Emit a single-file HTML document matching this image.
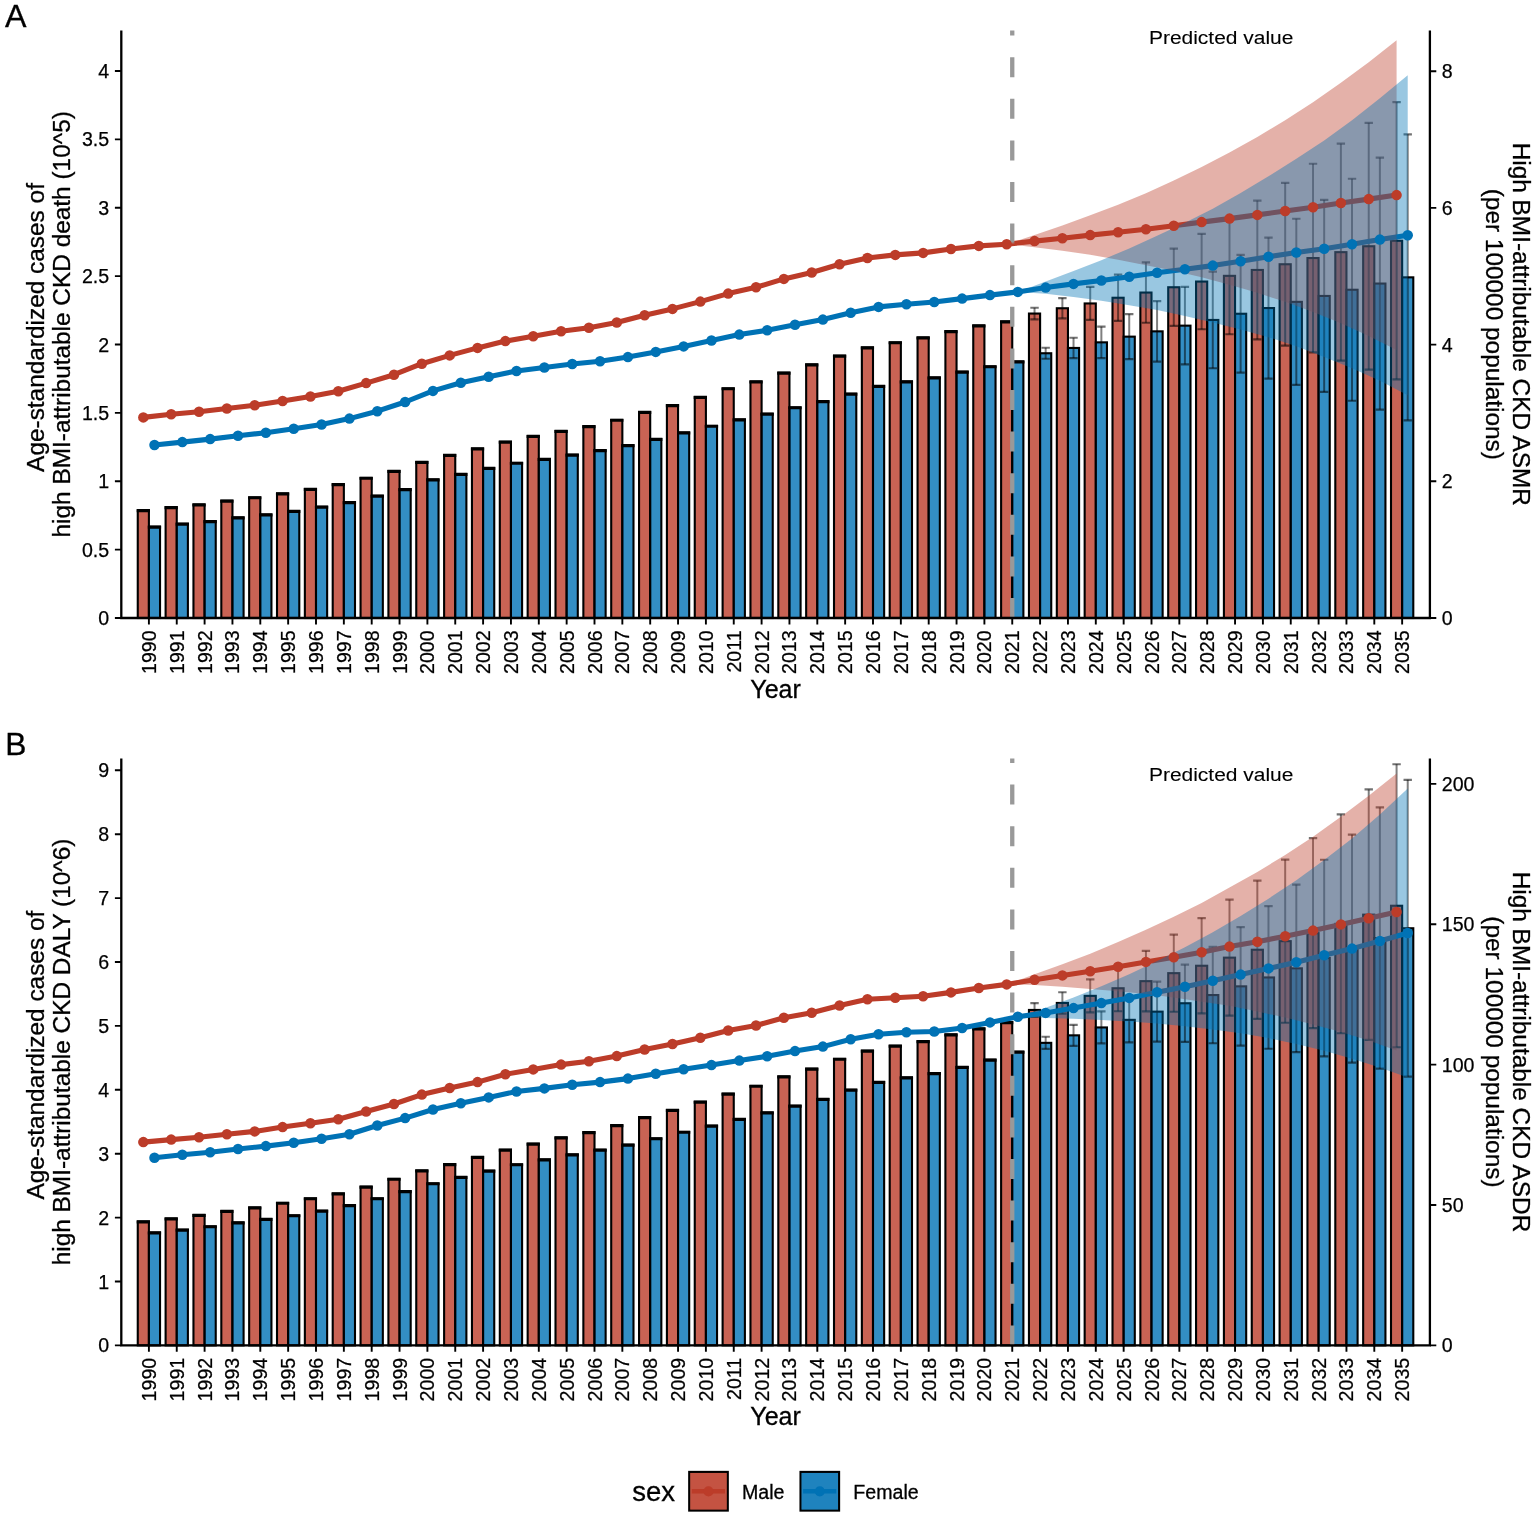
<!DOCTYPE html>
<html><head><meta charset="utf-8"><title>High BMI-attributable CKD burden</title>
<style>html,body{margin:0;padding:0;background:#fff;}svg{display:block;filter:blur(0.3px);}</style></head>
<body>
<svg width="1535" height="1517" viewBox="0 0 1535 1517"><g stroke="#000" stroke-width="2.1" stroke-linejoin="miter"><rect x="137.76" y="510.35" width="11.14" height="107.65" fill="rgba(188,60,41,0.8)"/><rect x="148.9" y="526.75" width="11.14" height="91.25" fill="rgba(0,114,181,0.8)"/><rect x="165.61" y="507.25" width="11.14" height="110.75" fill="rgba(188,60,41,0.8)"/><rect x="176.75" y="523.85" width="11.14" height="94.15" fill="rgba(0,114,181,0.8)"/><rect x="193.46" y="504.65" width="11.14" height="113.35" fill="rgba(188,60,41,0.8)"/><rect x="204.6" y="521.25" width="11.14" height="96.75" fill="rgba(0,114,181,0.8)"/><rect x="221.31" y="500.75" width="11.14" height="117.25" fill="rgba(188,60,41,0.8)"/><rect x="232.45" y="517.55" width="11.14" height="100.45" fill="rgba(0,114,181,0.8)"/><rect x="249.16" y="497.45" width="11.14" height="120.55" fill="rgba(188,60,41,0.8)"/><rect x="260.3" y="514.65" width="11.14" height="103.35" fill="rgba(0,114,181,0.8)"/><rect x="277.01" y="493.55" width="11.14" height="124.45" fill="rgba(188,60,41,0.8)"/><rect x="288.15" y="511.15" width="11.14" height="106.85" fill="rgba(0,114,181,0.8)"/><rect x="304.86" y="489.05" width="11.14" height="128.95" fill="rgba(188,60,41,0.8)"/><rect x="316" y="506.85" width="11.14" height="111.15" fill="rgba(0,114,181,0.8)"/><rect x="332.71" y="484.35" width="11.14" height="133.65" fill="rgba(188,60,41,0.8)"/><rect x="343.85" y="502.35" width="11.14" height="115.65" fill="rgba(0,114,181,0.8)"/><rect x="360.56" y="477.95" width="11.14" height="140.05" fill="rgba(188,60,41,0.8)"/><rect x="371.7" y="495.85" width="11.14" height="122.15" fill="rgba(0,114,181,0.8)"/><rect x="388.41" y="471.05" width="11.14" height="146.95" fill="rgba(188,60,41,0.8)"/><rect x="399.55" y="489.25" width="11.14" height="128.75" fill="rgba(0,114,181,0.8)"/><rect x="416.26" y="462.05" width="11.14" height="155.95" fill="rgba(188,60,41,0.8)"/><rect x="427.4" y="479.55" width="11.14" height="138.45" fill="rgba(0,114,181,0.8)"/><rect x="444.11" y="455.05" width="11.14" height="162.95" fill="rgba(188,60,41,0.8)"/><rect x="455.25" y="474.05" width="11.14" height="143.95" fill="rgba(0,114,181,0.8)"/><rect x="471.96" y="448.65" width="11.14" height="169.35" fill="rgba(188,60,41,0.8)"/><rect x="483.1" y="468.15" width="11.14" height="149.85" fill="rgba(0,114,181,0.8)"/><rect x="499.81" y="441.85" width="11.14" height="176.15" fill="rgba(188,60,41,0.8)"/><rect x="510.95" y="462.95" width="11.14" height="155.05" fill="rgba(0,114,181,0.8)"/><rect x="527.66" y="436.15" width="11.14" height="181.85" fill="rgba(188,60,41,0.8)"/><rect x="538.8" y="459.05" width="11.14" height="158.95" fill="rgba(0,114,181,0.8)"/><rect x="555.51" y="431.05" width="11.14" height="186.95" fill="rgba(188,60,41,0.8)"/><rect x="566.65" y="454.75" width="11.14" height="163.25" fill="rgba(0,114,181,0.8)"/><rect x="583.36" y="426.35" width="11.14" height="191.65" fill="rgba(188,60,41,0.8)"/><rect x="594.5" y="450.25" width="11.14" height="167.75" fill="rgba(0,114,181,0.8)"/><rect x="611.21" y="419.95" width="11.14" height="198.05" fill="rgba(188,60,41,0.8)"/><rect x="622.35" y="445.35" width="11.14" height="172.65" fill="rgba(0,114,181,0.8)"/><rect x="639.06" y="412.15" width="11.14" height="205.85" fill="rgba(188,60,41,0.8)"/><rect x="650.2" y="439.05" width="11.14" height="178.95" fill="rgba(0,114,181,0.8)"/><rect x="666.91" y="405.25" width="11.14" height="212.75" fill="rgba(188,60,41,0.8)"/><rect x="678.05" y="432.65" width="11.14" height="185.35" fill="rgba(0,114,181,0.8)"/><rect x="694.76" y="397.15" width="11.14" height="220.85" fill="rgba(188,60,41,0.8)"/><rect x="705.9" y="425.95" width="11.14" height="192.05" fill="rgba(0,114,181,0.8)"/><rect x="722.61" y="388.45" width="11.14" height="229.55" fill="rgba(188,60,41,0.8)"/><rect x="733.75" y="419.55" width="11.14" height="198.45" fill="rgba(0,114,181,0.8)"/><rect x="750.46" y="381.65" width="11.14" height="236.35" fill="rgba(188,60,41,0.8)"/><rect x="761.6" y="413.85" width="11.14" height="204.15" fill="rgba(0,114,181,0.8)"/><rect x="778.31" y="372.75" width="11.14" height="245.25" fill="rgba(188,60,41,0.8)"/><rect x="789.45" y="407.45" width="11.14" height="210.55" fill="rgba(0,114,181,0.8)"/><rect x="806.16" y="364.55" width="11.14" height="253.45" fill="rgba(188,60,41,0.8)"/><rect x="817.3" y="401.35" width="11.14" height="216.65" fill="rgba(0,114,181,0.8)"/><rect x="834.01" y="355.75" width="11.14" height="262.25" fill="rgba(188,60,41,0.8)"/><rect x="845.15" y="393.85" width="11.14" height="224.15" fill="rgba(0,114,181,0.8)"/><rect x="861.86" y="347.55" width="11.14" height="270.45" fill="rgba(188,60,41,0.8)"/><rect x="873" y="386.05" width="11.14" height="231.95" fill="rgba(0,114,181,0.8)"/><rect x="889.71" y="342.45" width="11.14" height="275.55" fill="rgba(188,60,41,0.8)"/><rect x="900.85" y="381.55" width="11.14" height="236.45" fill="rgba(0,114,181,0.8)"/><rect x="917.56" y="337.65" width="11.14" height="280.35" fill="rgba(188,60,41,0.8)"/><rect x="928.7" y="377.65" width="11.14" height="240.35" fill="rgba(0,114,181,0.8)"/><rect x="945.41" y="331.35" width="11.14" height="286.65" fill="rgba(188,60,41,0.8)"/><rect x="956.55" y="371.75" width="11.14" height="246.25" fill="rgba(0,114,181,0.8)"/><rect x="973.26" y="325.65" width="11.14" height="292.35" fill="rgba(188,60,41,0.8)"/><rect x="984.4" y="366.45" width="11.14" height="251.55" fill="rgba(0,114,181,0.8)"/><rect x="1001.11" y="321.55" width="11.14" height="296.45" fill="rgba(188,60,41,0.8)"/><rect x="1012.25" y="361.65" width="11.14" height="256.35" fill="rgba(0,114,181,0.8)"/><rect x="1028.96" y="313.55" width="11.14" height="304.45" fill="rgba(188,60,41,0.8)"/><rect x="1040.1" y="353.25" width="11.14" height="264.75" fill="rgba(0,114,181,0.8)"/><rect x="1056.81" y="308.25" width="11.14" height="309.75" fill="rgba(188,60,41,0.8)"/><rect x="1067.95" y="347.95" width="11.14" height="270.05" fill="rgba(0,114,181,0.8)"/><rect x="1084.66" y="303.45" width="11.14" height="314.55" fill="rgba(188,60,41,0.8)"/><rect x="1095.8" y="342.35" width="11.14" height="275.65" fill="rgba(0,114,181,0.8)"/><rect x="1112.51" y="297.75" width="11.14" height="320.25" fill="rgba(188,60,41,0.8)"/><rect x="1123.65" y="336.65" width="11.14" height="281.35" fill="rgba(0,114,181,0.8)"/><rect x="1140.36" y="292.55" width="11.14" height="325.45" fill="rgba(188,60,41,0.8)"/><rect x="1151.5" y="331.35" width="11.14" height="286.65" fill="rgba(0,114,181,0.8)"/><rect x="1168.21" y="287.25" width="11.14" height="330.75" fill="rgba(188,60,41,0.8)"/><rect x="1179.35" y="325.65" width="11.14" height="292.35" fill="rgba(0,114,181,0.8)"/><rect x="1196.06" y="281.55" width="11.14" height="336.45" fill="rgba(188,60,41,0.8)"/><rect x="1207.2" y="319.95" width="11.14" height="298.05" fill="rgba(0,114,181,0.8)"/><rect x="1223.91" y="275.85" width="11.14" height="342.15" fill="rgba(188,60,41,0.8)"/><rect x="1235.05" y="313.75" width="11.14" height="304.25" fill="rgba(0,114,181,0.8)"/><rect x="1251.76" y="269.95" width="11.14" height="348.05" fill="rgba(188,60,41,0.8)"/><rect x="1262.9" y="308.05" width="11.14" height="309.95" fill="rgba(0,114,181,0.8)"/><rect x="1279.61" y="264.25" width="11.14" height="353.75" fill="rgba(188,60,41,0.8)"/><rect x="1290.75" y="301.85" width="11.14" height="316.15" fill="rgba(0,114,181,0.8)"/><rect x="1307.46" y="258.05" width="11.14" height="359.95" fill="rgba(188,60,41,0.8)"/><rect x="1318.6" y="295.95" width="11.14" height="322.05" fill="rgba(0,114,181,0.8)"/><rect x="1335.31" y="252.15" width="11.14" height="365.85" fill="rgba(188,60,41,0.8)"/><rect x="1346.45" y="289.75" width="11.14" height="328.25" fill="rgba(0,114,181,0.8)"/><rect x="1363.16" y="246.25" width="11.14" height="371.75" fill="rgba(188,60,41,0.8)"/><rect x="1374.3" y="283.55" width="11.14" height="334.45" fill="rgba(0,114,181,0.8)"/><rect x="1391.01" y="240.75" width="11.14" height="377.25" fill="rgba(188,60,41,0.8)"/><rect x="1402.15" y="277.35" width="11.14" height="340.65" fill="rgba(0,114,181,0.8)"/></g>
<g stroke="#000" stroke-opacity="0.5" stroke-width="2.0" fill="none"><path d="M1034.53 307.75V319.35"/><path d="M1045.67 347.75V358.75"/><path d="M1062.38 298.05V318.45"/><path d="M1073.52 337.75V358.15"/><path d="M1090.23 286.95V319.95"/><path d="M1101.37 326.65V358.05"/><path d="M1118.08 274.65V320.85"/><path d="M1129.22 314.15V359.15"/><path d="M1145.93 262.35V322.75"/><path d="M1157.07 301.15V361.55"/><path d="M1173.78 248.55V325.95"/><path d="M1184.92 286.85V364.45"/><path d="M1201.63 233.85V329.25"/><path d="M1212.77 271.65V368.25"/><path d="M1229.48 217.45V334.25"/><path d="M1240.62 254.95V372.55"/><path d="M1257.33 200.55V339.35"/><path d="M1268.47 237.55V378.55"/><path d="M1285.18 182.95V345.55"/><path d="M1296.32 218.75V384.95"/><path d="M1313.03 163.75V352.35"/><path d="M1324.17 199.95V391.95"/><path d="M1340.88 143.65V360.65"/><path d="M1352.02 178.75V400.75"/><path d="M1368.73 122.85V369.65"/><path d="M1379.87 157.55V409.55"/><path d="M1396.58 102.15V379.35"/><path d="M1407.72 134.35V420.35"/></g>
<g stroke="#000" stroke-opacity="0.55" stroke-width="2.2" fill="none"><path d="M1030.33 307.75H1038.73M1030.33 319.35H1038.73"/><path d="M1041.47 347.75H1049.87M1041.47 358.75H1049.87"/><path d="M1058.18 298.05H1066.58M1058.18 318.45H1066.58"/><path d="M1069.32 337.75H1077.72M1069.32 358.15H1077.72"/><path d="M1086.03 286.95H1094.43M1086.03 319.95H1094.43"/><path d="M1097.17 326.65H1105.57M1097.17 358.05H1105.57"/><path d="M1113.88 274.65H1122.28M1113.88 320.85H1122.28"/><path d="M1125.02 314.15H1133.42M1125.02 359.15H1133.42"/><path d="M1141.73 262.35H1150.13M1141.73 322.75H1150.13"/><path d="M1152.87 301.15H1161.27M1152.87 361.55H1161.27"/><path d="M1169.58 248.55H1177.98M1169.58 325.95H1177.98"/><path d="M1180.72 286.85H1189.12M1180.72 364.45H1189.12"/><path d="M1197.43 233.85H1205.83M1197.43 329.25H1205.83"/><path d="M1208.57 271.65H1216.97M1208.57 368.25H1216.97"/><path d="M1225.28 217.45H1233.68M1225.28 334.25H1233.68"/><path d="M1236.42 254.95H1244.82M1236.42 372.55H1244.82"/><path d="M1253.13 200.55H1261.53M1253.13 339.35H1261.53"/><path d="M1264.27 237.55H1272.67M1264.27 378.55H1272.67"/><path d="M1280.98 182.95H1289.38M1280.98 345.55H1289.38"/><path d="M1292.12 218.75H1300.52M1292.12 384.95H1300.52"/><path d="M1308.83 163.75H1317.23M1308.83 352.35H1317.23"/><path d="M1319.97 199.95H1328.37M1319.97 391.95H1328.37"/><path d="M1336.68 143.65H1345.08M1336.68 360.65H1345.08"/><path d="M1347.82 178.75H1356.22M1347.82 400.75H1356.22"/><path d="M1364.53 122.85H1372.93M1364.53 369.65H1372.93"/><path d="M1375.67 157.55H1384.07M1375.67 409.55H1384.07"/><path d="M1392.38 102.15H1400.78M1392.38 379.35H1400.78"/><path d="M1403.52 134.35H1411.92M1403.52 420.35H1411.92"/></g>
<path d="M136.71 510.65H149.95M147.85 527.05H161.09M164.56 507.55H177.8M175.7 524.15H188.94M192.41 504.95H205.65M203.55 521.55H216.79M220.26 501.05H233.5M231.4 517.85H244.64M248.11 497.75H261.35M259.25 514.95H272.49M275.96 493.85H289.2M287.1 511.45H300.34M303.81 489.35H317.05M314.95 507.15H328.19M331.66 484.65H344.9M342.8 502.65H356.04M359.51 478.25H372.75M370.65 496.15H383.89M387.36 471.35H400.6M398.5 489.55H411.74M415.21 462.35H428.45M426.35 479.85H439.59M443.06 455.35H456.3M454.2 474.35H467.44M470.91 448.95H484.15M482.05 468.45H495.29M498.76 442.15H512M509.9 463.25H523.14M526.61 436.45H539.85M537.75 459.35H550.99M554.46 431.35H567.7M565.6 455.05H578.84M582.31 426.65H595.55M593.45 450.55H606.69M610.16 420.25H623.4M621.3 445.65H634.54M638.01 412.45H651.25M649.15 439.35H662.39M665.86 405.55H679.1M677 432.95H690.24M693.71 397.45H706.95M704.85 426.25H718.09M721.56 388.75H734.8M732.7 419.85H745.94M749.41 381.95H762.65M760.55 414.15H773.79M777.26 373.05H790.5M788.4 407.75H801.64M805.11 364.85H818.35M816.25 401.65H829.49M832.96 356.05H846.2M844.1 394.15H857.34M860.81 347.85H874.05M871.95 386.35H885.19M888.66 342.75H901.9M899.8 381.85H913.04M916.51 337.95H929.75M927.65 377.95H940.89M944.36 331.65H957.6M955.5 372.05H968.74M972.21 325.95H985.45M983.35 366.75H996.59M1000.06 321.85H1013.3M1011.2 361.95H1024.44" stroke="#000" stroke-width="3.2" fill="none"/>
<path d="M143.33 417.4 L171.18 414.3 L199.03 411.8 L226.88 408.5 L254.73 405.3 L282.58 401 L310.43 396.5 L338.28 391.3 L366.13 383.1 L393.98 374.7 L421.83 363.7 L449.68 355.4 L477.53 347.9 L505.38 341.1 L533.23 336.2 L561.08 331.3 L588.93 327.8 L616.78 322.5 L644.63 315.3 L672.48 308.9 L700.33 301.6 L728.18 293.6 L756.03 287.3 L783.88 278.9 L811.73 272.5 L839.58 264.3 L867.43 258 L895.28 254.9 L923.13 252.9 L950.98 249 L978.83 245.9 L1006.68 244.2 L1034.53 241.1 L1062.38 238.2 L1090.23 235.1 L1118.08 232.3 L1145.93 229.2 L1173.78 225.7 L1201.63 222.1 L1229.48 218.6 L1257.33 214.9 L1285.18 211 L1313.03 207.2 L1340.88 203 L1368.73 199.1 L1396.58 195.1" fill="none" stroke="#BC3C29" stroke-width="5.1" stroke-linejoin="round"/>
<path d="M154.47 445 L182.32 442.1 L210.17 439.1 L238.02 435.8 L265.87 432.7 L293.72 428.8 L321.57 424.5 L349.42 418.6 L377.27 411.2 L405.12 402 L432.97 390.9 L460.82 382.7 L488.67 376.7 L516.52 371 L544.37 367.5 L572.22 364 L600.07 361.2 L627.92 357.1 L655.77 351.9 L683.62 346.4 L711.47 340.5 L739.32 334.6 L767.17 330.3 L795.02 324.8 L822.87 319.6 L850.72 312.7 L878.57 306.9 L906.42 304.3 L934.27 302 L962.12 298.6 L989.97 295.1 L1017.82 291.9 L1045.67 287.6 L1073.52 283.9 L1101.37 280.5 L1129.22 276.8 L1157.07 272.8 L1184.92 269.3 L1212.77 265.6 L1240.62 261.2 L1268.47 256.7 L1296.32 252.5 L1324.17 248.8 L1352.02 244.3 L1379.87 239.6 L1407.72 235.2" fill="none" stroke="#0072B5" stroke-width="5.1" stroke-linejoin="round"/>
<line x1="1012.25" y1="618" x2="1012.25" y2="30.6" stroke="#999999" stroke-width="4.3" stroke-dasharray="20 21.6"/>
<path d="M1006.68 244.2 L1034.53 235.07 L1062.38 225.61 L1090.23 215.37 L1118.08 204.8 L1145.93 193.24 L1173.78 180.53 L1201.63 166.92 L1229.48 152.51 L1257.33 136.95 L1285.18 120.14 L1313.03 102.29 L1340.88 82.8 L1368.73 62.26 L1396.58 40.15 L1396.58 350.05 L1368.73 335.94 L1340.88 323.2 L1313.03 312.11 L1285.18 301.86 L1257.33 292.85 L1229.48 284.69 L1201.63 277.28 L1173.78 270.87 L1145.93 265.16 L1118.08 259.8 L1090.23 254.83 L1062.38 250.79 L1034.53 247.13 L1006.68 244.2Z" fill="rgba(188,60,41,0.4)"/>
<path d="M1017.82 291.9 L1045.67 281.38 L1073.52 270.9 L1101.37 260.13 L1129.22 248.41 L1157.07 235.68 L1184.92 222.68 L1212.77 208.64 L1240.62 192.99 L1268.47 176.24 L1296.32 158.71 L1324.17 140.51 L1352.02 120.23 L1379.87 98.35 L1407.72 75.25 L1407.72 395.15 L1379.87 380.85 L1352.02 368.37 L1324.17 357.09 L1296.32 346.29 L1268.47 337.16 L1240.62 329.41 L1212.77 322.56 L1184.92 315.92 L1157.07 309.92 L1129.22 305.19 L1101.37 300.87 L1073.52 296.9 L1045.67 293.82 L1017.82 291.9Z" fill="rgba(0,114,181,0.4)"/>
<g fill="#BC3C29"><circle cx="143.33" cy="417.4" r="5.25"/><circle cx="171.18" cy="414.3" r="5.25"/><circle cx="199.03" cy="411.8" r="5.25"/><circle cx="226.88" cy="408.5" r="5.25"/><circle cx="254.73" cy="405.3" r="5.25"/><circle cx="282.58" cy="401" r="5.25"/><circle cx="310.43" cy="396.5" r="5.25"/><circle cx="338.28" cy="391.3" r="5.25"/><circle cx="366.13" cy="383.1" r="5.25"/><circle cx="393.98" cy="374.7" r="5.25"/><circle cx="421.83" cy="363.7" r="5.25"/><circle cx="449.68" cy="355.4" r="5.25"/><circle cx="477.53" cy="347.9" r="5.25"/><circle cx="505.38" cy="341.1" r="5.25"/><circle cx="533.23" cy="336.2" r="5.25"/><circle cx="561.08" cy="331.3" r="5.25"/><circle cx="588.93" cy="327.8" r="5.25"/><circle cx="616.78" cy="322.5" r="5.25"/><circle cx="644.63" cy="315.3" r="5.25"/><circle cx="672.48" cy="308.9" r="5.25"/><circle cx="700.33" cy="301.6" r="5.25"/><circle cx="728.18" cy="293.6" r="5.25"/><circle cx="756.03" cy="287.3" r="5.25"/><circle cx="783.88" cy="278.9" r="5.25"/><circle cx="811.73" cy="272.5" r="5.25"/><circle cx="839.58" cy="264.3" r="5.25"/><circle cx="867.43" cy="258" r="5.25"/><circle cx="895.28" cy="254.9" r="5.25"/><circle cx="923.13" cy="252.9" r="5.25"/><circle cx="950.98" cy="249" r="5.25"/><circle cx="978.83" cy="245.9" r="5.25"/><circle cx="1006.68" cy="244.2" r="5.25"/><circle cx="1034.53" cy="241.1" r="5.25"/><circle cx="1062.38" cy="238.2" r="5.25"/><circle cx="1090.23" cy="235.1" r="5.25"/><circle cx="1118.08" cy="232.3" r="5.25"/><circle cx="1145.93" cy="229.2" r="5.25"/><circle cx="1173.78" cy="225.7" r="5.25"/><circle cx="1201.63" cy="222.1" r="5.25"/><circle cx="1229.48" cy="218.6" r="5.25"/><circle cx="1257.33" cy="214.9" r="5.25"/><circle cx="1285.18" cy="211" r="5.25"/><circle cx="1313.03" cy="207.2" r="5.25"/><circle cx="1340.88" cy="203" r="5.25"/><circle cx="1368.73" cy="199.1" r="5.25"/><circle cx="1396.58" cy="195.1" r="5.25"/></g>
<g fill="#0072B5"><circle cx="154.47" cy="445" r="5.25"/><circle cx="182.32" cy="442.1" r="5.25"/><circle cx="210.17" cy="439.1" r="5.25"/><circle cx="238.02" cy="435.8" r="5.25"/><circle cx="265.87" cy="432.7" r="5.25"/><circle cx="293.72" cy="428.8" r="5.25"/><circle cx="321.57" cy="424.5" r="5.25"/><circle cx="349.42" cy="418.6" r="5.25"/><circle cx="377.27" cy="411.2" r="5.25"/><circle cx="405.12" cy="402" r="5.25"/><circle cx="432.97" cy="390.9" r="5.25"/><circle cx="460.82" cy="382.7" r="5.25"/><circle cx="488.67" cy="376.7" r="5.25"/><circle cx="516.52" cy="371" r="5.25"/><circle cx="544.37" cy="367.5" r="5.25"/><circle cx="572.22" cy="364" r="5.25"/><circle cx="600.07" cy="361.2" r="5.25"/><circle cx="627.92" cy="357.1" r="5.25"/><circle cx="655.77" cy="351.9" r="5.25"/><circle cx="683.62" cy="346.4" r="5.25"/><circle cx="711.47" cy="340.5" r="5.25"/><circle cx="739.32" cy="334.6" r="5.25"/><circle cx="767.17" cy="330.3" r="5.25"/><circle cx="795.02" cy="324.8" r="5.25"/><circle cx="822.87" cy="319.6" r="5.25"/><circle cx="850.72" cy="312.7" r="5.25"/><circle cx="878.57" cy="306.9" r="5.25"/><circle cx="906.42" cy="304.3" r="5.25"/><circle cx="934.27" cy="302" r="5.25"/><circle cx="962.12" cy="298.6" r="5.25"/><circle cx="989.97" cy="295.1" r="5.25"/><circle cx="1017.82" cy="291.9" r="5.25"/><circle cx="1045.67" cy="287.6" r="5.25"/><circle cx="1073.52" cy="283.9" r="5.25"/><circle cx="1101.37" cy="280.5" r="5.25"/><circle cx="1129.22" cy="276.8" r="5.25"/><circle cx="1157.07" cy="272.8" r="5.25"/><circle cx="1184.92" cy="269.3" r="5.25"/><circle cx="1212.77" cy="265.6" r="5.25"/><circle cx="1240.62" cy="261.2" r="5.25"/><circle cx="1268.47" cy="256.7" r="5.25"/><circle cx="1296.32" cy="252.5" r="5.25"/><circle cx="1324.17" cy="248.8" r="5.25"/><circle cx="1352.02" cy="244.3" r="5.25"/><circle cx="1379.87" cy="239.6" r="5.25"/><circle cx="1407.72" cy="235.2" r="5.25"/></g>
<g stroke="#000" stroke-width="2.3" fill="none" stroke-linecap="butt"><path d="M121.3 30.6V619.15M1429.9 30.6V619.15M120.15 618H1431.05"/>
<path d="M114.9 618H121.3M114.9 549.62H121.3M114.9 481.25H121.3M114.9 412.88H121.3M114.9 344.5H121.3M114.9 276.12H121.3M114.9 207.75H121.3M114.9 139.38H121.3M114.9 71H121.3M1429.9 618H1436.3M1429.9 481.3H1436.3M1429.9 344.6H1436.3M1429.9 207.9H1436.3M1429.9 71.2H1436.3M148.9 618V624.4M176.75 618V624.4M204.6 618V624.4M232.45 618V624.4M260.3 618V624.4M288.15 618V624.4M316 618V624.4M343.85 618V624.4M371.7 618V624.4M399.55 618V624.4M427.4 618V624.4M455.25 618V624.4M483.1 618V624.4M510.95 618V624.4M538.8 618V624.4M566.65 618V624.4M594.5 618V624.4M622.35 618V624.4M650.2 618V624.4M678.05 618V624.4M705.9 618V624.4M733.75 618V624.4M761.6 618V624.4M789.45 618V624.4M817.3 618V624.4M845.15 618V624.4M873 618V624.4M900.85 618V624.4M928.7 618V624.4M956.55 618V624.4M984.4 618V624.4M1012.25 618V624.4M1040.1 618V624.4M1067.95 618V624.4M1095.8 618V624.4M1123.65 618V624.4M1151.5 618V624.4M1179.35 618V624.4M1207.2 618V624.4M1235.05 618V624.4M1262.9 618V624.4M1290.75 618V624.4M1318.6 618V624.4M1346.45 618V624.4M1374.3 618V624.4M1402.15 618V624.4" stroke-width="1.9"/></g>
<g font-family="'Liberation Sans', Arial, Helvetica, sans-serif" font-size="19.6" fill="#000" stroke="#000" stroke-width="0.25"><text x="109.2" y="625" text-anchor="end">0</text><text x="109.2" y="556.62" text-anchor="end">0.5</text><text x="109.2" y="488.25" text-anchor="end">1</text><text x="109.2" y="419.88" text-anchor="end">1.5</text><text x="109.2" y="351.5" text-anchor="end">2</text><text x="109.2" y="283.12" text-anchor="end">2.5</text><text x="109.2" y="214.75" text-anchor="end">3</text><text x="109.2" y="146.38" text-anchor="end">3.5</text><text x="109.2" y="78" text-anchor="end">4</text><text x="1441.8" y="625">0</text><text x="1441.8" y="488.3">2</text><text x="1441.8" y="351.6">4</text><text x="1441.8" y="214.9">6</text><text x="1441.8" y="78.2">8</text><text transform="translate(155.9 630.4) rotate(-90)" text-anchor="end">1990</text><text transform="translate(183.75 630.4) rotate(-90)" text-anchor="end">1991</text><text transform="translate(211.6 630.4) rotate(-90)" text-anchor="end">1992</text><text transform="translate(239.45 630.4) rotate(-90)" text-anchor="end">1993</text><text transform="translate(267.3 630.4) rotate(-90)" text-anchor="end">1994</text><text transform="translate(295.15 630.4) rotate(-90)" text-anchor="end">1995</text><text transform="translate(323 630.4) rotate(-90)" text-anchor="end">1996</text><text transform="translate(350.85 630.4) rotate(-90)" text-anchor="end">1997</text><text transform="translate(378.7 630.4) rotate(-90)" text-anchor="end">1998</text><text transform="translate(406.55 630.4) rotate(-90)" text-anchor="end">1999</text><text transform="translate(434.4 630.4) rotate(-90)" text-anchor="end">2000</text><text transform="translate(462.25 630.4) rotate(-90)" text-anchor="end">2001</text><text transform="translate(490.1 630.4) rotate(-90)" text-anchor="end">2002</text><text transform="translate(517.95 630.4) rotate(-90)" text-anchor="end">2003</text><text transform="translate(545.8 630.4) rotate(-90)" text-anchor="end">2004</text><text transform="translate(573.65 630.4) rotate(-90)" text-anchor="end">2005</text><text transform="translate(601.5 630.4) rotate(-90)" text-anchor="end">2006</text><text transform="translate(629.35 630.4) rotate(-90)" text-anchor="end">2007</text><text transform="translate(657.2 630.4) rotate(-90)" text-anchor="end">2008</text><text transform="translate(685.05 630.4) rotate(-90)" text-anchor="end">2009</text><text transform="translate(712.9 630.4) rotate(-90)" text-anchor="end">2010</text><text transform="translate(740.75 630.4) rotate(-90)" text-anchor="end">2011</text><text transform="translate(768.6 630.4) rotate(-90)" text-anchor="end">2012</text><text transform="translate(796.45 630.4) rotate(-90)" text-anchor="end">2013</text><text transform="translate(824.3 630.4) rotate(-90)" text-anchor="end">2014</text><text transform="translate(852.15 630.4) rotate(-90)" text-anchor="end">2015</text><text transform="translate(880 630.4) rotate(-90)" text-anchor="end">2016</text><text transform="translate(907.85 630.4) rotate(-90)" text-anchor="end">2017</text><text transform="translate(935.7 630.4) rotate(-90)" text-anchor="end">2018</text><text transform="translate(963.55 630.4) rotate(-90)" text-anchor="end">2019</text><text transform="translate(991.4 630.4) rotate(-90)" text-anchor="end">2020</text><text transform="translate(1019.25 630.4) rotate(-90)" text-anchor="end">2021</text><text transform="translate(1047.1 630.4) rotate(-90)" text-anchor="end">2022</text><text transform="translate(1074.95 630.4) rotate(-90)" text-anchor="end">2023</text><text transform="translate(1102.8 630.4) rotate(-90)" text-anchor="end">2024</text><text transform="translate(1130.65 630.4) rotate(-90)" text-anchor="end">2025</text><text transform="translate(1158.5 630.4) rotate(-90)" text-anchor="end">2026</text><text transform="translate(1186.35 630.4) rotate(-90)" text-anchor="end">2027</text><text transform="translate(1214.2 630.4) rotate(-90)" text-anchor="end">2028</text><text transform="translate(1242.05 630.4) rotate(-90)" text-anchor="end">2029</text><text transform="translate(1269.9 630.4) rotate(-90)" text-anchor="end">2030</text><text transform="translate(1297.75 630.4) rotate(-90)" text-anchor="end">2031</text><text transform="translate(1325.6 630.4) rotate(-90)" text-anchor="end">2032</text><text transform="translate(1353.45 630.4) rotate(-90)" text-anchor="end">2033</text><text transform="translate(1381.3 630.4) rotate(-90)" text-anchor="end">2034</text><text transform="translate(1409.15 630.4) rotate(-90)" text-anchor="end">2035</text></g>
<g font-family="'Liberation Sans', Arial, Helvetica, sans-serif" font-size="24.4" fill="#000" stroke="#000" stroke-width="0.3"><text transform="translate(43.7 327.5) rotate(-90)" text-anchor="middle">Age-standardized cases of</text><text transform="translate(70.4 324.3) rotate(-90)" text-anchor="middle">high BMI-attributable CKD death (10^5)</text><text transform="translate(1512.5 324.3) rotate(90)" text-anchor="middle">High BMI-attributable CKD ASMR</text><text transform="translate(1486.2 324.3) rotate(90)" text-anchor="middle">(per 100000 populations)</text><text x="775.6" y="697.7" text-anchor="middle" font-size="25">Year</text></g>
<text x="1221.2" y="44" text-anchor="middle" font-family="'Liberation Sans', Arial, Helvetica, sans-serif" font-size="18.9" stroke="#000" stroke-width="0.1" textLength="144.5" lengthAdjust="spacingAndGlyphs">Predicted value</text>
<text x="5.1" y="27.0" font-family="'Liberation Sans', Arial, Helvetica, sans-serif" font-size="31" stroke="#000" stroke-width="0.3" textLength="21.5" lengthAdjust="spacingAndGlyphs">A</text>
<g stroke="#000" stroke-width="2.1" stroke-linejoin="miter"><rect x="137.76" y="1221.55" width="11.14" height="123.85" fill="rgba(188,60,41,0.8)"/><rect x="148.9" y="1232.65" width="11.14" height="112.75" fill="rgba(0,114,181,0.8)"/><rect x="165.61" y="1218.65" width="11.14" height="126.75" fill="rgba(188,60,41,0.8)"/><rect x="176.75" y="1229.75" width="11.14" height="115.65" fill="rgba(0,114,181,0.8)"/><rect x="193.46" y="1215.05" width="11.14" height="130.35" fill="rgba(188,60,41,0.8)"/><rect x="204.6" y="1226.45" width="11.14" height="118.95" fill="rgba(0,114,181,0.8)"/><rect x="221.31" y="1211.15" width="11.14" height="134.25" fill="rgba(188,60,41,0.8)"/><rect x="232.45" y="1222.55" width="11.14" height="122.85" fill="rgba(0,114,181,0.8)"/><rect x="249.16" y="1207.65" width="11.14" height="137.75" fill="rgba(188,60,41,0.8)"/><rect x="260.3" y="1219.05" width="11.14" height="126.35" fill="rgba(0,114,181,0.8)"/><rect x="277.01" y="1202.95" width="11.14" height="142.45" fill="rgba(188,60,41,0.8)"/><rect x="288.15" y="1215.45" width="11.14" height="129.95" fill="rgba(0,114,181,0.8)"/><rect x="304.86" y="1198.45" width="11.14" height="146.95" fill="rgba(188,60,41,0.8)"/><rect x="316" y="1210.85" width="11.14" height="134.55" fill="rgba(0,114,181,0.8)"/><rect x="332.71" y="1193.65" width="11.14" height="151.75" fill="rgba(188,60,41,0.8)"/><rect x="343.85" y="1205.35" width="11.14" height="140.05" fill="rgba(0,114,181,0.8)"/><rect x="360.56" y="1186.75" width="11.14" height="158.65" fill="rgba(188,60,41,0.8)"/><rect x="371.7" y="1198.45" width="11.14" height="146.95" fill="rgba(0,114,181,0.8)"/><rect x="388.41" y="1178.95" width="11.14" height="166.45" fill="rgba(188,60,41,0.8)"/><rect x="399.55" y="1191.25" width="11.14" height="154.15" fill="rgba(0,114,181,0.8)"/><rect x="416.26" y="1170.65" width="11.14" height="174.75" fill="rgba(188,60,41,0.8)"/><rect x="427.4" y="1183.45" width="11.14" height="161.95" fill="rgba(0,114,181,0.8)"/><rect x="444.11" y="1164.25" width="11.14" height="181.15" fill="rgba(188,60,41,0.8)"/><rect x="455.25" y="1177.15" width="11.14" height="168.25" fill="rgba(0,114,181,0.8)"/><rect x="471.96" y="1157.05" width="11.14" height="188.35" fill="rgba(188,60,41,0.8)"/><rect x="483.1" y="1170.75" width="11.14" height="174.65" fill="rgba(0,114,181,0.8)"/><rect x="499.81" y="1149.85" width="11.14" height="195.55" fill="rgba(188,60,41,0.8)"/><rect x="510.95" y="1164.45" width="11.14" height="180.95" fill="rgba(0,114,181,0.8)"/><rect x="527.66" y="1143.75" width="11.14" height="201.65" fill="rgba(188,60,41,0.8)"/><rect x="538.8" y="1159.55" width="11.14" height="185.85" fill="rgba(0,114,181,0.8)"/><rect x="555.51" y="1137.55" width="11.14" height="207.85" fill="rgba(188,60,41,0.8)"/><rect x="566.65" y="1154.55" width="11.14" height="190.85" fill="rgba(0,114,181,0.8)"/><rect x="583.36" y="1132.25" width="11.14" height="213.15" fill="rgba(188,60,41,0.8)"/><rect x="594.5" y="1149.85" width="11.14" height="195.55" fill="rgba(0,114,181,0.8)"/><rect x="611.21" y="1125.35" width="11.14" height="220.05" fill="rgba(188,60,41,0.8)"/><rect x="622.35" y="1144.75" width="11.14" height="200.65" fill="rgba(0,114,181,0.8)"/><rect x="639.06" y="1117.35" width="11.14" height="228.05" fill="rgba(188,60,41,0.8)"/><rect x="650.2" y="1138.45" width="11.14" height="206.95" fill="rgba(0,114,181,0.8)"/><rect x="666.91" y="1110.15" width="11.14" height="235.25" fill="rgba(188,60,41,0.8)"/><rect x="678.05" y="1131.95" width="11.14" height="213.45" fill="rgba(0,114,181,0.8)"/><rect x="694.76" y="1101.85" width="11.14" height="243.55" fill="rgba(188,60,41,0.8)"/><rect x="705.9" y="1125.75" width="11.14" height="219.65" fill="rgba(0,114,181,0.8)"/><rect x="722.61" y="1093.75" width="11.14" height="251.65" fill="rgba(188,60,41,0.8)"/><rect x="733.75" y="1119.15" width="11.14" height="226.25" fill="rgba(0,114,181,0.8)"/><rect x="750.46" y="1085.95" width="11.14" height="259.45" fill="rgba(188,60,41,0.8)"/><rect x="761.6" y="1112.65" width="11.14" height="232.75" fill="rgba(0,114,181,0.8)"/><rect x="778.31" y="1076.55" width="11.14" height="268.85" fill="rgba(188,60,41,0.8)"/><rect x="789.45" y="1105.85" width="11.14" height="239.55" fill="rgba(0,114,181,0.8)"/><rect x="806.16" y="1068.75" width="11.14" height="276.65" fill="rgba(188,60,41,0.8)"/><rect x="817.3" y="1099.05" width="11.14" height="246.35" fill="rgba(0,114,181,0.8)"/><rect x="834.01" y="1058.95" width="11.14" height="286.45" fill="rgba(188,60,41,0.8)"/><rect x="845.15" y="1089.85" width="11.14" height="255.55" fill="rgba(0,114,181,0.8)"/><rect x="861.86" y="1050.75" width="11.14" height="294.65" fill="rgba(188,60,41,0.8)"/><rect x="873" y="1082.05" width="11.14" height="263.35" fill="rgba(0,114,181,0.8)"/><rect x="889.71" y="1045.85" width="11.14" height="299.55" fill="rgba(188,60,41,0.8)"/><rect x="900.85" y="1077.55" width="11.14" height="267.85" fill="rgba(0,114,181,0.8)"/><rect x="917.56" y="1041.35" width="11.14" height="304.05" fill="rgba(188,60,41,0.8)"/><rect x="928.7" y="1073.25" width="11.14" height="272.15" fill="rgba(0,114,181,0.8)"/><rect x="945.41" y="1034.55" width="11.14" height="310.85" fill="rgba(188,60,41,0.8)"/><rect x="956.55" y="1067.05" width="11.14" height="278.35" fill="rgba(0,114,181,0.8)"/><rect x="973.26" y="1028.55" width="11.14" height="316.85" fill="rgba(188,60,41,0.8)"/><rect x="984.4" y="1059.75" width="11.14" height="285.65" fill="rgba(0,114,181,0.8)"/><rect x="1001.11" y="1022.25" width="11.14" height="323.15" fill="rgba(188,60,41,0.8)"/><rect x="1012.25" y="1051.85" width="11.14" height="293.55" fill="rgba(0,114,181,0.8)"/><rect x="1028.96" y="1009.95" width="11.14" height="335.45" fill="rgba(188,60,41,0.8)"/><rect x="1040.1" y="1042.85" width="11.14" height="302.55" fill="rgba(0,114,181,0.8)"/><rect x="1056.81" y="1002.95" width="11.14" height="342.45" fill="rgba(188,60,41,0.8)"/><rect x="1067.95" y="1035.35" width="11.14" height="310.05" fill="rgba(0,114,181,0.8)"/><rect x="1084.66" y="995.85" width="11.14" height="349.55" fill="rgba(188,60,41,0.8)"/><rect x="1095.8" y="1027.45" width="11.14" height="317.95" fill="rgba(0,114,181,0.8)"/><rect x="1112.51" y="988.25" width="11.14" height="357.15" fill="rgba(188,60,41,0.8)"/><rect x="1123.65" y="1019.85" width="11.14" height="325.55" fill="rgba(0,114,181,0.8)"/><rect x="1140.36" y="981.15" width="11.14" height="364.25" fill="rgba(188,60,41,0.8)"/><rect x="1151.5" y="1011.65" width="11.14" height="333.75" fill="rgba(0,114,181,0.8)"/><rect x="1168.21" y="973.15" width="11.14" height="372.25" fill="rgba(188,60,41,0.8)"/><rect x="1179.35" y="1003.25" width="11.14" height="342.15" fill="rgba(0,114,181,0.8)"/><rect x="1196.06" y="965.75" width="11.14" height="379.65" fill="rgba(188,60,41,0.8)"/><rect x="1207.2" y="995.05" width="11.14" height="350.35" fill="rgba(0,114,181,0.8)"/><rect x="1223.91" y="957.65" width="11.14" height="387.75" fill="rgba(188,60,41,0.8)"/><rect x="1235.05" y="986.35" width="11.14" height="359.05" fill="rgba(0,114,181,0.8)"/><rect x="1251.76" y="949.75" width="11.14" height="395.65" fill="rgba(188,60,41,0.8)"/><rect x="1262.9" y="977.45" width="11.14" height="367.95" fill="rgba(0,114,181,0.8)"/><rect x="1279.61" y="941.15" width="11.14" height="404.25" fill="rgba(188,60,41,0.8)"/><rect x="1290.75" y="968.35" width="11.14" height="377.05" fill="rgba(0,114,181,0.8)"/><rect x="1307.46" y="933.15" width="11.14" height="412.25" fill="rgba(188,60,41,0.8)"/><rect x="1318.6" y="958.05" width="11.14" height="387.35" fill="rgba(0,114,181,0.8)"/><rect x="1335.31" y="923.85" width="11.14" height="421.55" fill="rgba(188,60,41,0.8)"/><rect x="1346.45" y="948.55" width="11.14" height="396.85" fill="rgba(0,114,181,0.8)"/><rect x="1363.16" y="914.65" width="11.14" height="430.75" fill="rgba(188,60,41,0.8)"/><rect x="1374.3" y="938.05" width="11.14" height="407.35" fill="rgba(0,114,181,0.8)"/><rect x="1391.01" y="905.75" width="11.14" height="439.65" fill="rgba(188,60,41,0.8)"/><rect x="1402.15" y="928.25" width="11.14" height="417.15" fill="rgba(0,114,181,0.8)"/></g>
<g stroke="#000" stroke-opacity="0.5" stroke-width="2.0" fill="none"><path d="M1034.53 1003.05V1016.85"/><path d="M1045.67 1036.75V1048.95"/><path d="M1062.38 992.25V1013.65"/><path d="M1073.52 1024.85V1045.85"/><path d="M1090.23 979.35V1012.35"/><path d="M1101.37 1011.45V1043.45"/><path d="M1118.08 965.25V1011.25"/><path d="M1129.22 997.35V1042.35"/><path d="M1145.93 950.85V1011.45"/><path d="M1157.07 981.65V1041.65"/><path d="M1173.78 934.55V1011.75"/><path d="M1184.92 964.65V1041.85"/><path d="M1201.63 918.05V1013.45"/><path d="M1212.77 946.85V1043.25"/><path d="M1229.48 899.65V1015.65"/><path d="M1240.62 927.15V1045.55"/><path d="M1257.33 880.55V1018.95"/><path d="M1268.47 906.15V1048.75"/><path d="M1285.18 859.55V1022.75"/><path d="M1296.32 884.55V1052.15"/><path d="M1313.03 838.15V1028.15"/><path d="M1324.17 859.75V1056.35"/><path d="M1340.88 814.45V1033.25"/><path d="M1352.02 834.55V1062.55"/><path d="M1368.73 789.45V1039.85"/><path d="M1379.87 807.45V1068.65"/><path d="M1396.58 764.25V1047.25"/><path d="M1407.72 779.85V1076.65"/></g>
<g stroke="#000" stroke-opacity="0.55" stroke-width="2.2" fill="none"><path d="M1030.33 1003.05H1038.73M1030.33 1016.85H1038.73"/><path d="M1041.47 1036.75H1049.87M1041.47 1048.95H1049.87"/><path d="M1058.18 992.25H1066.58M1058.18 1013.65H1066.58"/><path d="M1069.32 1024.85H1077.72M1069.32 1045.85H1077.72"/><path d="M1086.03 979.35H1094.43M1086.03 1012.35H1094.43"/><path d="M1097.17 1011.45H1105.57M1097.17 1043.45H1105.57"/><path d="M1113.88 965.25H1122.28M1113.88 1011.25H1122.28"/><path d="M1125.02 997.35H1133.42M1125.02 1042.35H1133.42"/><path d="M1141.73 950.85H1150.13M1141.73 1011.45H1150.13"/><path d="M1152.87 981.65H1161.27M1152.87 1041.65H1161.27"/><path d="M1169.58 934.55H1177.98M1169.58 1011.75H1177.98"/><path d="M1180.72 964.65H1189.12M1180.72 1041.85H1189.12"/><path d="M1197.43 918.05H1205.83M1197.43 1013.45H1205.83"/><path d="M1208.57 946.85H1216.97M1208.57 1043.25H1216.97"/><path d="M1225.28 899.65H1233.68M1225.28 1015.65H1233.68"/><path d="M1236.42 927.15H1244.82M1236.42 1045.55H1244.82"/><path d="M1253.13 880.55H1261.53M1253.13 1018.95H1261.53"/><path d="M1264.27 906.15H1272.67M1264.27 1048.75H1272.67"/><path d="M1280.98 859.55H1289.38M1280.98 1022.75H1289.38"/><path d="M1292.12 884.55H1300.52M1292.12 1052.15H1300.52"/><path d="M1308.83 838.15H1317.23M1308.83 1028.15H1317.23"/><path d="M1319.97 859.75H1328.37M1319.97 1056.35H1328.37"/><path d="M1336.68 814.45H1345.08M1336.68 1033.25H1345.08"/><path d="M1347.82 834.55H1356.22M1347.82 1062.55H1356.22"/><path d="M1364.53 789.45H1372.93M1364.53 1039.85H1372.93"/><path d="M1375.67 807.45H1384.07M1375.67 1068.65H1384.07"/><path d="M1392.38 764.25H1400.78M1392.38 1047.25H1400.78"/><path d="M1403.52 779.85H1411.92M1403.52 1076.65H1411.92"/></g>
<path d="M136.71 1221.85H149.95M147.85 1232.95H161.09M164.56 1218.95H177.8M175.7 1230.05H188.94M192.41 1215.35H205.65M203.55 1226.75H216.79M220.26 1211.45H233.5M231.4 1222.85H244.64M248.11 1207.95H261.35M259.25 1219.35H272.49M275.96 1203.25H289.2M287.1 1215.75H300.34M303.81 1198.75H317.05M314.95 1211.15H328.19M331.66 1193.95H344.9M342.8 1205.65H356.04M359.51 1187.05H372.75M370.65 1198.75H383.89M387.36 1179.25H400.6M398.5 1191.55H411.74M415.21 1170.95H428.45M426.35 1183.75H439.59M443.06 1164.55H456.3M454.2 1177.45H467.44M470.91 1157.35H484.15M482.05 1171.05H495.29M498.76 1150.15H512M509.9 1164.75H523.14M526.61 1144.05H539.85M537.75 1159.85H550.99M554.46 1137.85H567.7M565.6 1154.85H578.84M582.31 1132.55H595.55M593.45 1150.15H606.69M610.16 1125.65H623.4M621.3 1145.05H634.54M638.01 1117.65H651.25M649.15 1138.75H662.39M665.86 1110.45H679.1M677 1132.25H690.24M693.71 1102.15H706.95M704.85 1126.05H718.09M721.56 1094.05H734.8M732.7 1119.45H745.94M749.41 1086.25H762.65M760.55 1112.95H773.79M777.26 1076.85H790.5M788.4 1106.15H801.64M805.11 1069.05H818.35M816.25 1099.35H829.49M832.96 1059.25H846.2M844.1 1090.15H857.34M860.81 1051.05H874.05M871.95 1082.35H885.19M888.66 1046.15H901.9M899.8 1077.85H913.04M916.51 1041.65H929.75M927.65 1073.55H940.89M944.36 1034.85H957.6M955.5 1067.35H968.74M972.21 1028.85H985.45M983.35 1060.05H996.59M1000.06 1022.55H1013.3M1011.2 1052.15H1024.44" stroke="#000" stroke-width="3.2" fill="none"/>
<path d="M143.33 1142.1 L171.18 1139.6 L199.03 1137.3 L226.88 1134.3 L254.73 1131.4 L282.58 1127.1 L310.43 1123.2 L338.28 1119.3 L366.13 1111.5 L393.98 1104 L421.83 1094.6 L449.68 1088 L477.53 1082.1 L505.38 1074.3 L533.23 1069.4 L561.08 1064.6 L588.93 1061.2 L616.78 1056.1 L644.63 1049.5 L672.48 1044 L700.33 1037.8 L728.18 1030.5 L756.03 1025.5 L783.88 1017.8 L811.73 1012.8 L839.58 1005.5 L867.43 999.3 L895.28 997.7 L923.13 996.3 L950.98 992.4 L978.83 988 L1006.68 984.4 L1034.53 979.7 L1062.38 975.4 L1090.23 971.3 L1118.08 966.7 L1145.93 961.9 L1173.78 957.2 L1201.63 952.3 L1229.48 946.6 L1257.33 941.7 L1285.18 936.3 L1313.03 930.6 L1340.88 924.4 L1368.73 918.2 L1396.58 912" fill="none" stroke="#BC3C29" stroke-width="5.1" stroke-linejoin="round"/>
<path d="M154.47 1157.8 L182.32 1154.8 L210.17 1152.3 L238.02 1149 L265.87 1146.1 L293.72 1142.7 L321.57 1138.8 L349.42 1134.3 L377.27 1125.5 L405.12 1118.1 L432.97 1109.5 L460.82 1103.2 L488.67 1097.4 L516.52 1091.5 L544.37 1088.4 L572.22 1084.7 L600.07 1082.1 L627.92 1078.6 L655.77 1073.7 L683.62 1069.2 L711.47 1065.1 L739.32 1060.6 L767.17 1056.3 L795.02 1051.1 L822.87 1046.6 L850.72 1039.3 L878.57 1034.3 L906.42 1032.3 L934.27 1031.5 L962.12 1028 L989.97 1022.4 L1017.82 1016.8 L1045.67 1012.9 L1073.52 1008.1 L1101.37 1003.1 L1129.22 997.9 L1157.07 992.3 L1184.92 986.8 L1212.77 980.8 L1240.62 974.6 L1268.47 968.4 L1296.32 962.2 L1324.17 955.3 L1352.02 948.6 L1379.87 941 L1407.72 933" fill="none" stroke="#0072B5" stroke-width="5.1" stroke-linejoin="round"/>
<line x1="1012.25" y1="1345.4" x2="1012.25" y2="758.5" stroke="#999999" stroke-width="4.3" stroke-dasharray="20 21.6"/>
<path d="M1006.68 984.4 L1034.53 974.31 L1062.38 964.14 L1090.23 953.65 L1118.08 942.09 L1145.93 929.73 L1173.78 916.79 L1201.63 902.93 L1229.48 887.48 L1257.33 871.97 L1285.18 855.02 L1313.03 836.75 L1340.88 816.87 L1368.73 795.78 L1396.58 773.38 L1396.58 1050.62 L1368.73 1040.62 L1340.88 1031.93 L1313.03 1024.45 L1285.18 1017.58 L1257.33 1011.43 L1229.48 1005.72 L1201.63 1001.67 L1173.78 997.61 L1145.93 994.07 L1118.08 991.31 L1090.23 988.95 L1062.38 986.66 L1034.53 985.09 L1006.68 984.4Z" fill="rgba(188,60,41,0.4)"/>
<path d="M1017.82 1016.8 L1045.67 1007.81 L1073.52 997.4 L1101.37 986.21 L1129.22 974.2 L1157.07 961.09 L1184.92 947.32 L1212.77 932.2 L1240.62 915.96 L1268.47 898.7 L1296.32 880.3 L1324.17 859.97 L1352.02 838.46 L1379.87 814.55 L1407.72 788.58 L1407.72 1077.42 L1379.87 1067.45 L1352.02 1058.74 L1324.17 1050.63 L1296.32 1044.1 L1268.47 1038.1 L1240.62 1033.24 L1212.77 1029.4 L1184.92 1026.28 L1157.07 1023.51 L1129.22 1021.6 L1101.37 1019.99 L1073.52 1018.8 L1045.67 1017.99 L1017.82 1016.8Z" fill="rgba(0,114,181,0.4)"/>
<g fill="#BC3C29"><circle cx="143.33" cy="1142.1" r="5.25"/><circle cx="171.18" cy="1139.6" r="5.25"/><circle cx="199.03" cy="1137.3" r="5.25"/><circle cx="226.88" cy="1134.3" r="5.25"/><circle cx="254.73" cy="1131.4" r="5.25"/><circle cx="282.58" cy="1127.1" r="5.25"/><circle cx="310.43" cy="1123.2" r="5.25"/><circle cx="338.28" cy="1119.3" r="5.25"/><circle cx="366.13" cy="1111.5" r="5.25"/><circle cx="393.98" cy="1104" r="5.25"/><circle cx="421.83" cy="1094.6" r="5.25"/><circle cx="449.68" cy="1088" r="5.25"/><circle cx="477.53" cy="1082.1" r="5.25"/><circle cx="505.38" cy="1074.3" r="5.25"/><circle cx="533.23" cy="1069.4" r="5.25"/><circle cx="561.08" cy="1064.6" r="5.25"/><circle cx="588.93" cy="1061.2" r="5.25"/><circle cx="616.78" cy="1056.1" r="5.25"/><circle cx="644.63" cy="1049.5" r="5.25"/><circle cx="672.48" cy="1044" r="5.25"/><circle cx="700.33" cy="1037.8" r="5.25"/><circle cx="728.18" cy="1030.5" r="5.25"/><circle cx="756.03" cy="1025.5" r="5.25"/><circle cx="783.88" cy="1017.8" r="5.25"/><circle cx="811.73" cy="1012.8" r="5.25"/><circle cx="839.58" cy="1005.5" r="5.25"/><circle cx="867.43" cy="999.3" r="5.25"/><circle cx="895.28" cy="997.7" r="5.25"/><circle cx="923.13" cy="996.3" r="5.25"/><circle cx="950.98" cy="992.4" r="5.25"/><circle cx="978.83" cy="988" r="5.25"/><circle cx="1006.68" cy="984.4" r="5.25"/><circle cx="1034.53" cy="979.7" r="5.25"/><circle cx="1062.38" cy="975.4" r="5.25"/><circle cx="1090.23" cy="971.3" r="5.25"/><circle cx="1118.08" cy="966.7" r="5.25"/><circle cx="1145.93" cy="961.9" r="5.25"/><circle cx="1173.78" cy="957.2" r="5.25"/><circle cx="1201.63" cy="952.3" r="5.25"/><circle cx="1229.48" cy="946.6" r="5.25"/><circle cx="1257.33" cy="941.7" r="5.25"/><circle cx="1285.18" cy="936.3" r="5.25"/><circle cx="1313.03" cy="930.6" r="5.25"/><circle cx="1340.88" cy="924.4" r="5.25"/><circle cx="1368.73" cy="918.2" r="5.25"/><circle cx="1396.58" cy="912" r="5.25"/></g>
<g fill="#0072B5"><circle cx="154.47" cy="1157.8" r="5.25"/><circle cx="182.32" cy="1154.8" r="5.25"/><circle cx="210.17" cy="1152.3" r="5.25"/><circle cx="238.02" cy="1149" r="5.25"/><circle cx="265.87" cy="1146.1" r="5.25"/><circle cx="293.72" cy="1142.7" r="5.25"/><circle cx="321.57" cy="1138.8" r="5.25"/><circle cx="349.42" cy="1134.3" r="5.25"/><circle cx="377.27" cy="1125.5" r="5.25"/><circle cx="405.12" cy="1118.1" r="5.25"/><circle cx="432.97" cy="1109.5" r="5.25"/><circle cx="460.82" cy="1103.2" r="5.25"/><circle cx="488.67" cy="1097.4" r="5.25"/><circle cx="516.52" cy="1091.5" r="5.25"/><circle cx="544.37" cy="1088.4" r="5.25"/><circle cx="572.22" cy="1084.7" r="5.25"/><circle cx="600.07" cy="1082.1" r="5.25"/><circle cx="627.92" cy="1078.6" r="5.25"/><circle cx="655.77" cy="1073.7" r="5.25"/><circle cx="683.62" cy="1069.2" r="5.25"/><circle cx="711.47" cy="1065.1" r="5.25"/><circle cx="739.32" cy="1060.6" r="5.25"/><circle cx="767.17" cy="1056.3" r="5.25"/><circle cx="795.02" cy="1051.1" r="5.25"/><circle cx="822.87" cy="1046.6" r="5.25"/><circle cx="850.72" cy="1039.3" r="5.25"/><circle cx="878.57" cy="1034.3" r="5.25"/><circle cx="906.42" cy="1032.3" r="5.25"/><circle cx="934.27" cy="1031.5" r="5.25"/><circle cx="962.12" cy="1028" r="5.25"/><circle cx="989.97" cy="1022.4" r="5.25"/><circle cx="1017.82" cy="1016.8" r="5.25"/><circle cx="1045.67" cy="1012.9" r="5.25"/><circle cx="1073.52" cy="1008.1" r="5.25"/><circle cx="1101.37" cy="1003.1" r="5.25"/><circle cx="1129.22" cy="997.9" r="5.25"/><circle cx="1157.07" cy="992.3" r="5.25"/><circle cx="1184.92" cy="986.8" r="5.25"/><circle cx="1212.77" cy="980.8" r="5.25"/><circle cx="1240.62" cy="974.6" r="5.25"/><circle cx="1268.47" cy="968.4" r="5.25"/><circle cx="1296.32" cy="962.2" r="5.25"/><circle cx="1324.17" cy="955.3" r="5.25"/><circle cx="1352.02" cy="948.6" r="5.25"/><circle cx="1379.87" cy="941" r="5.25"/><circle cx="1407.72" cy="933" r="5.25"/></g>
<g stroke="#000" stroke-width="2.3" fill="none" stroke-linecap="butt"><path d="M121.3 758.5V1346.55M1429.9 758.5V1346.55M120.15 1345.4H1431.05"/>
<path d="M114.9 1345.4H121.3M114.9 1281.5H121.3M114.9 1217.6H121.3M114.9 1153.7H121.3M114.9 1089.8H121.3M114.9 1025.9H121.3M114.9 962H121.3M114.9 898.1H121.3M114.9 834.2H121.3M114.9 770.3H121.3M1429.9 1345.4H1436.3M1429.9 1205.03H1436.3M1429.9 1064.65H1436.3M1429.9 924.28H1436.3M1429.9 783.9H1436.3M148.9 1345.4V1351.8M176.75 1345.4V1351.8M204.6 1345.4V1351.8M232.45 1345.4V1351.8M260.3 1345.4V1351.8M288.15 1345.4V1351.8M316 1345.4V1351.8M343.85 1345.4V1351.8M371.7 1345.4V1351.8M399.55 1345.4V1351.8M427.4 1345.4V1351.8M455.25 1345.4V1351.8M483.1 1345.4V1351.8M510.95 1345.4V1351.8M538.8 1345.4V1351.8M566.65 1345.4V1351.8M594.5 1345.4V1351.8M622.35 1345.4V1351.8M650.2 1345.4V1351.8M678.05 1345.4V1351.8M705.9 1345.4V1351.8M733.75 1345.4V1351.8M761.6 1345.4V1351.8M789.45 1345.4V1351.8M817.3 1345.4V1351.8M845.15 1345.4V1351.8M873 1345.4V1351.8M900.85 1345.4V1351.8M928.7 1345.4V1351.8M956.55 1345.4V1351.8M984.4 1345.4V1351.8M1012.25 1345.4V1351.8M1040.1 1345.4V1351.8M1067.95 1345.4V1351.8M1095.8 1345.4V1351.8M1123.65 1345.4V1351.8M1151.5 1345.4V1351.8M1179.35 1345.4V1351.8M1207.2 1345.4V1351.8M1235.05 1345.4V1351.8M1262.9 1345.4V1351.8M1290.75 1345.4V1351.8M1318.6 1345.4V1351.8M1346.45 1345.4V1351.8M1374.3 1345.4V1351.8M1402.15 1345.4V1351.8" stroke-width="1.9"/></g>
<g font-family="'Liberation Sans', Arial, Helvetica, sans-serif" font-size="19.6" fill="#000" stroke="#000" stroke-width="0.25"><text x="109.2" y="1352.4" text-anchor="end">0</text><text x="109.2" y="1288.5" text-anchor="end">1</text><text x="109.2" y="1224.6" text-anchor="end">2</text><text x="109.2" y="1160.7" text-anchor="end">3</text><text x="109.2" y="1096.8" text-anchor="end">4</text><text x="109.2" y="1032.9" text-anchor="end">5</text><text x="109.2" y="969" text-anchor="end">6</text><text x="109.2" y="905.1" text-anchor="end">7</text><text x="109.2" y="841.2" text-anchor="end">8</text><text x="109.2" y="777.3" text-anchor="end">9</text><text x="1441.8" y="1352.4">0</text><text x="1441.8" y="1212.03">50</text><text x="1441.8" y="1071.65">100</text><text x="1441.8" y="931.28">150</text><text x="1441.8" y="790.9">200</text><text transform="translate(155.9 1357.8) rotate(-90)" text-anchor="end">1990</text><text transform="translate(183.75 1357.8) rotate(-90)" text-anchor="end">1991</text><text transform="translate(211.6 1357.8) rotate(-90)" text-anchor="end">1992</text><text transform="translate(239.45 1357.8) rotate(-90)" text-anchor="end">1993</text><text transform="translate(267.3 1357.8) rotate(-90)" text-anchor="end">1994</text><text transform="translate(295.15 1357.8) rotate(-90)" text-anchor="end">1995</text><text transform="translate(323 1357.8) rotate(-90)" text-anchor="end">1996</text><text transform="translate(350.85 1357.8) rotate(-90)" text-anchor="end">1997</text><text transform="translate(378.7 1357.8) rotate(-90)" text-anchor="end">1998</text><text transform="translate(406.55 1357.8) rotate(-90)" text-anchor="end">1999</text><text transform="translate(434.4 1357.8) rotate(-90)" text-anchor="end">2000</text><text transform="translate(462.25 1357.8) rotate(-90)" text-anchor="end">2001</text><text transform="translate(490.1 1357.8) rotate(-90)" text-anchor="end">2002</text><text transform="translate(517.95 1357.8) rotate(-90)" text-anchor="end">2003</text><text transform="translate(545.8 1357.8) rotate(-90)" text-anchor="end">2004</text><text transform="translate(573.65 1357.8) rotate(-90)" text-anchor="end">2005</text><text transform="translate(601.5 1357.8) rotate(-90)" text-anchor="end">2006</text><text transform="translate(629.35 1357.8) rotate(-90)" text-anchor="end">2007</text><text transform="translate(657.2 1357.8) rotate(-90)" text-anchor="end">2008</text><text transform="translate(685.05 1357.8) rotate(-90)" text-anchor="end">2009</text><text transform="translate(712.9 1357.8) rotate(-90)" text-anchor="end">2010</text><text transform="translate(740.75 1357.8) rotate(-90)" text-anchor="end">2011</text><text transform="translate(768.6 1357.8) rotate(-90)" text-anchor="end">2012</text><text transform="translate(796.45 1357.8) rotate(-90)" text-anchor="end">2013</text><text transform="translate(824.3 1357.8) rotate(-90)" text-anchor="end">2014</text><text transform="translate(852.15 1357.8) rotate(-90)" text-anchor="end">2015</text><text transform="translate(880 1357.8) rotate(-90)" text-anchor="end">2016</text><text transform="translate(907.85 1357.8) rotate(-90)" text-anchor="end">2017</text><text transform="translate(935.7 1357.8) rotate(-90)" text-anchor="end">2018</text><text transform="translate(963.55 1357.8) rotate(-90)" text-anchor="end">2019</text><text transform="translate(991.4 1357.8) rotate(-90)" text-anchor="end">2020</text><text transform="translate(1019.25 1357.8) rotate(-90)" text-anchor="end">2021</text><text transform="translate(1047.1 1357.8) rotate(-90)" text-anchor="end">2022</text><text transform="translate(1074.95 1357.8) rotate(-90)" text-anchor="end">2023</text><text transform="translate(1102.8 1357.8) rotate(-90)" text-anchor="end">2024</text><text transform="translate(1130.65 1357.8) rotate(-90)" text-anchor="end">2025</text><text transform="translate(1158.5 1357.8) rotate(-90)" text-anchor="end">2026</text><text transform="translate(1186.35 1357.8) rotate(-90)" text-anchor="end">2027</text><text transform="translate(1214.2 1357.8) rotate(-90)" text-anchor="end">2028</text><text transform="translate(1242.05 1357.8) rotate(-90)" text-anchor="end">2029</text><text transform="translate(1269.9 1357.8) rotate(-90)" text-anchor="end">2030</text><text transform="translate(1297.75 1357.8) rotate(-90)" text-anchor="end">2031</text><text transform="translate(1325.6 1357.8) rotate(-90)" text-anchor="end">2032</text><text transform="translate(1353.45 1357.8) rotate(-90)" text-anchor="end">2033</text><text transform="translate(1381.3 1357.8) rotate(-90)" text-anchor="end">2034</text><text transform="translate(1409.15 1357.8) rotate(-90)" text-anchor="end">2035</text></g>
<g font-family="'Liberation Sans', Arial, Helvetica, sans-serif" font-size="24.4" fill="#000" stroke="#000" stroke-width="0.3"><text transform="translate(43.7 1055.15) rotate(-90)" text-anchor="middle">Age-standardized cases of</text><text transform="translate(70.4 1051.95) rotate(-90)" text-anchor="middle">high BMI-attributable CKD DALY (10^6)</text><text transform="translate(1512.5 1051.95) rotate(90)" text-anchor="middle">High BMI-attributable CKD ASDR</text><text transform="translate(1486.2 1051.95) rotate(90)" text-anchor="middle">(per 100000 populations)</text><text x="775.6" y="1425.1" text-anchor="middle" font-size="25">Year</text></g>
<text x="1221.2" y="781" text-anchor="middle" font-family="'Liberation Sans', Arial, Helvetica, sans-serif" font-size="18.9" stroke="#000" stroke-width="0.1" textLength="144.5" lengthAdjust="spacingAndGlyphs">Predicted value</text>
<text x="5.3" y="754.8" font-family="'Liberation Sans', Arial, Helvetica, sans-serif" font-size="31" stroke="#000" stroke-width="0.3" textLength="21.2" lengthAdjust="spacingAndGlyphs">B</text>
<text x="632.3" y="1500.7" font-family="'Liberation Sans', Arial, Helvetica, sans-serif" font-size="27.5" stroke="#000" stroke-width="0.3">sex</text>
<rect x="689.2" y="1471.9" width="38.6" height="38.7" fill="rgba(188,60,41,0.8)" stroke="#000" stroke-width="2.1"/>
<rect x="690.25" y="1472.95" width="36.5" height="36.6" fill="rgba(188,60,41,0.4)"/>
<line x1="691.8" y1="1491.3" x2="725" y2="1491.3" stroke="#BC3C29" stroke-width="4.6"/>
<circle cx="708.5" cy="1491.3" r="5.1" fill="#BC3C29"/>
<text x="742.0" y="1498.6" font-family="'Liberation Sans', Arial, Helvetica, sans-serif" font-size="19.6" stroke="#000" stroke-width="0.3">Male</text>
<rect x="800.5" y="1471.9" width="38.6" height="38.7" fill="rgba(0,114,181,0.8)" stroke="#000" stroke-width="2.1"/>
<rect x="801.55" y="1472.95" width="36.5" height="36.6" fill="rgba(0,114,181,0.4)"/>
<line x1="803.1" y1="1491.3" x2="836.3" y2="1491.3" stroke="#0072B5" stroke-width="4.6"/>
<circle cx="819.8" cy="1491.3" r="5.1" fill="#0072B5"/>
<text x="853.3" y="1498.6" font-family="'Liberation Sans', Arial, Helvetica, sans-serif" font-size="19.6" stroke="#000" stroke-width="0.3">Female</text></svg>
</body></html>
